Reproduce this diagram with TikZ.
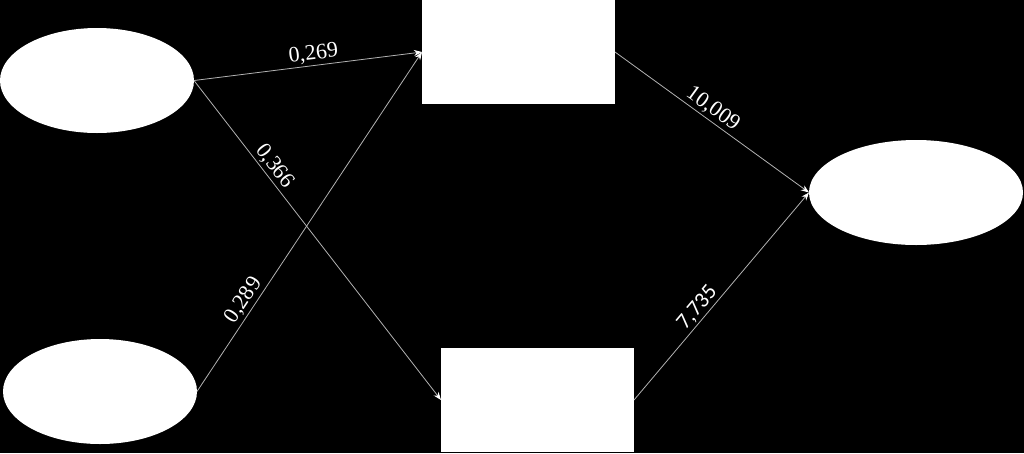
\documentclass[tikz,border=0pt]{standalone}
\usepackage{fontspec}
\setmainfont{Liberation Serif}
\newfontfamily\sansnum{Carlito}
\usetikzlibrary{shapes.geometric,arrows.meta}
\begin{document}
\begin{tikzpicture}[x=1pt,y=-1pt,
  oval/.style={ellipse,fill=white,draw=none,inner sep=0pt,outer sep=0pt,minimum height=105pt},
  box/.style={rectangle,fill=white,draw=none,inner sep=0pt,outer sep=0pt,minimum width=193pt,minimum height=104pt},
  link/.style={draw=black!30!white,line width=0.8pt,-{Stealth[length=8pt,width=6pt,color=white]}},
  lbl/.style={sloped,above,inner sep=2pt,text=white,font=\fontsize{22}{26}\selectfont}]
\fill[black] (0,0) rectangle (1024,453);
\useasboundingbox (0,0) rectangle (1024,453);
\node[oval,minimum width=194pt] (e1) at (97,80.5) {};
\node[oval,minimum width=194pt] (e2) at (100,391.5) {};
\node[oval,minimum width=214pt] (e3) at (916,192.5) {};
\node[box] (r1) at (518.5,52) {};
\node[box] (r2) at (537.5,400) {};
\draw[link] (e1.east) -- node[lbl,pos=0.53] {0,269} (r1.west);
\draw[link] (e1.east) -- node[lbl,pos=0.29] {0,366} (r2.west);
\draw[link] (e2.east) -- node[lbl,pos=0.25] {0,289} (r1.west);
\draw[link] (r1.east) -- node[lbl,pos=0.47] {10,009} (e3.west);
\draw[link] (r2.east) -- node[lbl,pos=0.41,font=\sansnum\fontsize{22}{26}\selectfont] {7,735} (e3.west);
\end{tikzpicture}
\end{document}
